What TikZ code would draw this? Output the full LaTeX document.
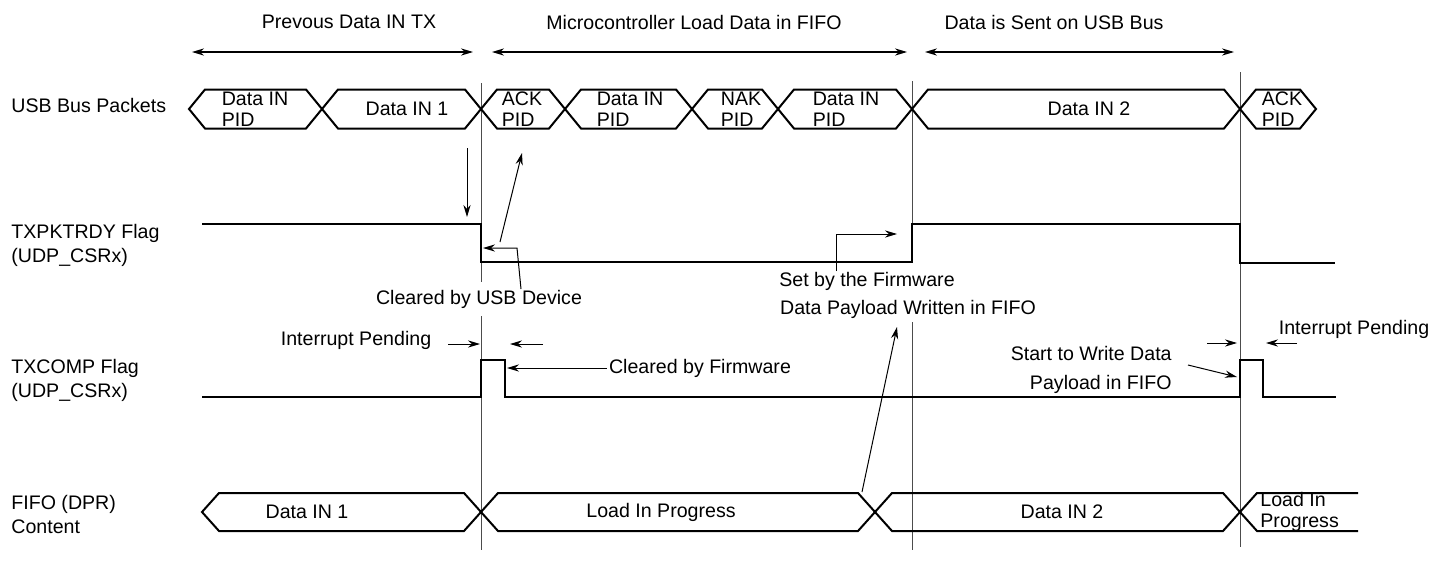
\documentclass[tikz,border=0pt]{standalone}
\usepackage{fontspec}
\setmainfont{Liberation Sans}
\usetikzlibrary{arrows.meta}

\begin{document}
\begin{tikzpicture}[x=0.5pt,y=-0.5pt,
  every node/.style={font=\fontsize{9.8}{12}\selectfont, inner sep=1pt},
  sig/.style={line width=1pt},
  vline/.style={draw=black!70, line width=0.5pt},
  ptr/.style={-{Stealth[length=6pt,width=3.6pt]}, line width=0.5pt},
  phase/.style={{Stealth[length=6pt,width=3.6pt]}-{Stealth[length=6pt,width=3.6pt]}, line width=0.6pt},
  rowlbl/.style={anchor=west, align=left, inner sep=0pt},
  pkt/.style={align=left, inner sep=0pt, font=\fontsize{9.8}{10.5}\selectfont},
  cutout/.style={fill=white, inner xsep=1pt, inner ysep=4pt}]
\useasboundingbox (0,0) rectangle (1446,578);

  % Phases
  \node (ph1) at (349,22) {Prevous Data IN TX};
  \node (ph2) at (694,22) {Microcontroller Load Data in FIFO};
  \node (ph3) at (1054,22) {Data is Sent on USB Bus};
  \coordinate (ph1a) at (192,52); \coordinate (ph1b) at (473,52);
  \coordinate (ph2a) at (492,52); \coordinate (ph2b) at (907,52);
  \coordinate (ph3a) at (925,52); \coordinate (ph3b) at (1234,52);
  \draw[phase] (ph1a) -- (ph1b);
  \draw[phase] (ph2a) -- (ph2b);
  \draw[phase] (ph3a) -- (ph3b);

  % Row labels
  \node[rowlbl] (lbus) at (11,105) {USB Bus Packets};
  \node[rowlbl] (lrdy) at (11,245) {TXPKTRDY Flag\\(UDP\_CSRx)};
  \node[rowlbl] (lcomp) at (11,380) {TXCOMP Flag\\(UDP\_CSRx)};
  \node[rowlbl] (lfifo) at (11,514) {FIFO (DPR)\\Content};

  % Time markers
  \draw[vline] (481,83) -- (481,550);
  \draw[vline] (912,81) -- (912,262) (912,322) -- (912,550);
  \draw[vline] (1240,72) -- (1240,547);

  % USB bus packets
  \foreach \xa/\xb/\tx/\nm/\txt in {189/322/255/pa/{Data IN\\PID}, 322/481/407/pb/{Data IN 1},
      481/565/522/pc/{ACK\\PID}, 565/692/630/pd/{Data IN\\PID}, 692/778/741/pe/{NAK\\PID},
      778/912/846/pf/{Data IN\\PID}, 912/1240/1089/pg/{Data IN 2}, 1240/1316/1282/ph/{ACK\\PID}}{
    \draw[sig] (\xa,109) -- ++(16,-19.5) -- ({\xb-16},89.5) -- (\xb,109) -- ++(-16,19.5) -- ({\xa+16},128.5) -- cycle;
    \node[pkt] (\nm) at (\tx,109) {\txt};
  }

  % TXPKTRDY
  \draw[sig] (202,224) -- (481,224) -- (481,262) -- (912,262) -- (912,224) -- (1240,224) -- (1240,263) -- (1335,263);

  % TXCOMP
  \draw[sig] (202,397) -- (481,397) -- (481,360) -- (505,360) -- (505,397) -- (1240,397)
    -- (1240,360) -- (1263,360) -- (1263,397) -- (1336,397);

  % FIFO content
  \foreach \xa/\xb/\tx/\nm/\txt in {202/481/307/fa/{Data IN 1}, 481/875/661/fb/{Load In Progress},
      875/1240/1062/fc/{Data IN 2}}{
    \draw[sig] (\xa,512) -- ++(17,-19) -- ({\xb-17},493) -- (\xb,512) -- ++(-17,19) -- ({\xa+17},531) -- cycle;
    \node (\nm) at (\tx,512) {\txt};
  }
  \draw[sig] (1358,493) -- (1257,493) -- (1240,512) -- (1257,531) -- (1358,531);
  \node[pkt, anchor=west] (fd) at (1260,512) {Load In\\Progress};

  % Annotations
  \coordinate (dn0) at (467,148); \coordinate (dn1) at (467,217);
  \draw[ptr] (dn0) -- (dn1);
  \coordinate (ack0) at (500,242); \coordinate (ack1) at (522,153);
  \draw[ptr] (ack0) -- (ack1);

  \node[cutout] (clrusb) at (479,299) {Cleared by USB Device};
  \coordinate (cu0) at (521,289); \coordinate (cu1) at (517,248); \coordinate (cu2) at (483,248);
  \draw[ptr] (cu0) -- (cu1) -- (cu2);

  \node (intl) at (356,340) {Interrupt Pending};
  \coordinate (il0) at (448,344); \coordinate (il1) at (480,344);
  \coordinate (il2) at (543,344); \coordinate (il3) at (510,344);
  \draw[ptr] (il0) -- (il1);
  \draw[ptr] (il2) -- (il3);

  \node (clrfw) at (700,368) {Cleared by Firmware};
  \coordinate (cf1) at (507,368);
  \draw[ptr] (clrfw.west) -- (cf1);

  \node (setfw) at (867,281) {Set by the Firmware};
  \node (dpw) at (908,309) {Data Payload Written in FIFO};
  \coordinate (sf0) at (836,271); \coordinate (sf1) at (836,234); \coordinate (sf2) at (897,234);
  \draw[ptr] (sf0) -- (sf1) -- (sf2);
  \coordinate (wr0) at (862,492); \coordinate (wr1) at (897,327);
  \draw[ptr] (wr0) -- (wr1);

  \node[align=right, anchor=east, font=\fontsize{9.8}{14.5}\selectfont] (stw) at (1174,370) {Start to Write Data\\Payload in FIFO};
  \coordinate (sw0) at (1188,365); \coordinate (sw1) at (1237,377);
  \draw[ptr] (sw0) -- (sw1);

  \node (intr) at (1354,329) {Interrupt Pending};
  \coordinate (ir0) at (1207,343); \coordinate (ir1) at (1237,343);
  \coordinate (ir2) at (1297,343); \coordinate (ir3) at (1266,343);
  \draw[ptr] (ir0) -- (ir1);
  \draw[ptr] (ir2) -- (ir3);
\end{tikzpicture}
\end{document}
